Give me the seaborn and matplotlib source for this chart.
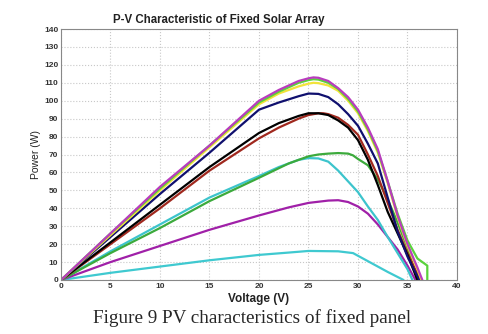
import matplotlib
matplotlib.use("Agg")
import matplotlib.pyplot as plt
import seaborn as sns
import pandas as pd

# ---- data ----
v_cyan_low = [0, 5, 10, 15, 20, 23, 25, 28, 29.5, 30, 31, 32, 33, 34.6]
p_cyan_low = [0, 4, 7.5, 11, 14, 15.3, 16.2, 16, 15, 13.5, 10.5, 7.5, 4.5, 0]

v_purple = [0, 5, 10, 15, 20, 23, 25, 27, 28, 29, 30, 31, 32, 33, 34, 35, 35.8]
p_purple = [0, 10, 19, 28, 36, 40.5, 43, 44.3, 44.5, 43.5, 41, 37, 31, 24, 17, 8, 0]

v_cyan = [0, 5, 10, 15, 20, 22, 24, 25, 26, 27, 28, 29, 30, 31, 32, 33, 34, 35, 35.5]
p_cyan = [0, 16, 31, 46, 58, 63, 67, 68, 67.8, 66, 61, 55, 49, 41, 33.5, 24, 15, 6, 0]

v_green = [0, 5, 10, 15, 20, 23, 25, 26, 27, 28, 29, 29.5, 30, 31, 32, 33, 34, 35, 36]
p_green = [0, 15, 29, 44, 57, 65, 69, 70, 70.5, 70.8, 70.5, 69.5, 67.5, 64, 56, 45, 32, 18, 0]

v_brown = [0, 5, 10, 15, 20, 22, 24, 25, 26, 26.5, 27, 28, 29, 30, 31, 32, 33, 34, 35, 36.3]
p_brown = [0, 20, 40, 61, 79, 85, 90, 92, 93, 93, 92.5, 90.5, 86.5, 81, 70, 58, 43, 28, 15, 0]

v_black = [0, 5, 10, 15, 20, 22, 24, 25, 26, 27, 28, 29, 30, 31, 32, 33, 34, 35, 36]
p_black = [0, 21, 42, 63, 82, 87.5, 91.5, 93, 93, 92, 89, 85, 78, 67, 53, 38, 26, 14, 0]

v_navy = [0, 5, 10, 15, 20, 22, 24, 25, 26, 27, 28, 29, 30, 31, 32, 33, 34, 35, 36.2]
p_navy = [0, 24, 48, 71, 95, 99, 102.5, 104, 103.8, 102, 98, 92.5, 86, 76, 65, 46, 27, 13, 0]

v_yellow = [0, 5, 10, 15, 20, 22, 24, 25, 25.5, 26, 27, 28, 29, 30, 31, 32, 33, 34, 35, 36, 36.4]
p_yellow = [0, 25, 50, 74, 98, 104, 108, 109.5, 110, 109.8, 108.5, 105.5, 100, 93, 83, 71, 54, 35, 19, 6, 0]

v_lgreen = [0, 5, 10, 15, 20, 22, 24, 25, 25.5, 26, 27, 28, 29, 30, 31, 32, 33, 34, 35, 36, 36.5, 37, 37]
p_lgreen = [0, 26, 51, 75, 99, 105, 110, 111.5, 112, 111.8, 110, 106.5, 101, 94, 84, 72, 55, 37, 22, 12, 10, 8, 0]

v_magenta = [0, 5, 10, 15, 20, 22, 24, 25, 25.5, 26, 27, 28, 29, 30, 31, 32, 33, 34, 35, 36, 36.5]
p_magenta = [0, 26, 52, 75, 100, 106, 111, 112.5, 113, 112.8, 111, 107, 102, 95, 85, 73, 55, 36, 20, 7, 0]

series = [
    (v_cyan_low, p_cyan_low, "#3fc9d0"),
    (v_purple, p_purple, "#a020a8"),
    (v_cyan, p_cyan, "#3cc4cc"),
    (v_green, p_green, "#3caa3c"),
    (v_brown, p_brown, "#a0281e"),
    (v_black, p_black, "#000000"),
    (v_navy, p_navy, "#10106e"),
    (v_yellow, p_yellow, "#f2e33a"),
    (v_lgreen, p_lgreen, "#5ad23c"),
    (v_magenta, p_magenta, "#b93cbe"),
]

x_ticks = [0, 5, 10, 15, 20, 25, 30, 35, 40]
y_ticks = [0, 10, 20, 30, 40, 50, 60, 70, 80, 90, 100, 110, 120, 130, 140]

title = "P-V Characteristic of Fixed Solar Array"
xlabel = "Voltage (V)"
ylabel = "Power (W)"
caption = "Figure 9 PV characteristics of fixed panel"

# ---- plot ----
sns.set_style("white")
plt.rcParams["font.family"] = ["Liberation Sans", "DejaVu Sans"]

fig = plt.figure(figsize=(4.89, 3.34), dpi=100)
ax = fig.add_axes([61/489, 1-280/334, (457-61)/489, (280-29)/334])

for v, p, c in series:
    df = pd.DataFrame({"V": v, "P": p})
    sns.lineplot(data=df, x="V", y="P", color=c, linewidth=1.6, sort=False,
                 ax=ax, estimator=None)

ax.set_xlim(0, 40)
ax.set_ylim(0, 140)
ax.set_xticks(x_ticks)
ax.set_yticks(y_ticks)
ax.set_xticklabels([str(t) for t in x_ticks])
ax.set_yticklabels([str(t) for t in y_ticks])
ax.tick_params(axis="both", labelsize=6, colors="#555555", length=2, width=0.5,
               direction="in", pad=2)
for lab in ax.get_xticklabels() + ax.get_yticklabels():
    lab.set_color("#333333")
    lab.set_fontweight("bold")
ax.grid(True, color="#c8c8c8", linestyle=":", linewidth=0.8)
for s in ax.spines.values():
    s.set_color("#888888")
    s.set_linewidth(0.8)

ax.set_xlabel(xlabel, fontsize=8.5, fontweight="bold", color="#222222", labelpad=2)
ax.set_ylabel(ylabel, fontsize=7.5, color="#222222", labelpad=2)
fig.text(219/489, 1-20/334, title, ha="center", va="center", fontsize=8.3,
         fontweight="bold", color="#222222")

fig.text(252/489, 1-318/334, caption, ha="center", va="center", fontsize=13.8,
         family=["Liberation Serif", "DejaVu Serif"])

fig.savefig("out.png", dpi=100)
